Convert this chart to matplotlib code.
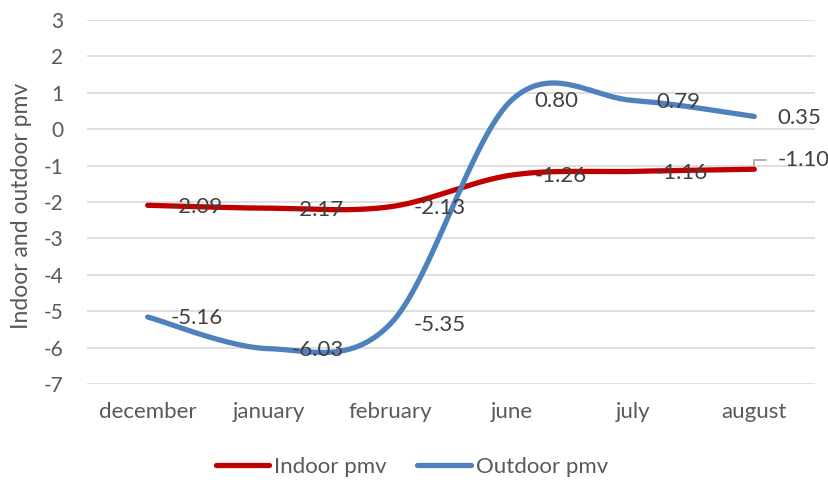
import numpy as np
import matplotlib
matplotlib.use("Agg")
import matplotlib.pyplot as plt

months = ["december", "january", "february", "june", "july", "august"]
indoor_pmv = [-2.09, -2.17, -2.13, -1.26, -1.16, -1.10]
outdoor_pmv = [-5.16, -6.03, -5.35, 0.80, 0.79, 0.35]
y_ticks = list(range(-7, 4))

plt.rcParams["font.family"] = ["Lato", "DejaVu Sans"]
plt.rcParams["axes.unicode_minus"] = False

RED = "#C00000"
BLUE = "#4F81BD"


def smooth(xs, ys, n=40):
    """Catmull-Rom style smoothing (as spreadsheet 'smoothed line')."""
    p = np.column_stack([xs, ys]).astype(float)
    p_ext = np.vstack([p[0], p, p[-1]])
    out = []
    t = np.linspace(0, 1, n)[:, None]
    for i in range(len(p) - 1):
        p0, p1, p2, p3 = p_ext[i], p_ext[i + 1], p_ext[i + 2], p_ext[i + 3]
        c1 = p1 + (p2 - p0) / 6
        c2 = p2 - (p3 - p1) / 6
        seg = ((1 - t) ** 3) * p1 + 3 * ((1 - t) ** 2) * t * c1 \
            + 3 * (1 - t) * t ** 2 * c2 + t ** 3 * p2
        out.append(seg if i == 0 else seg[1:])
    s = np.vstack(out)
    return s[:, 0], s[:, 1]


fig = plt.figure(figsize=(8.29, 4.82), dpi=100)
ax = fig.add_axes([87 / 829, 1 - 384 / 482, (815 - 87) / 829, (384 - 20) / 482])

x = np.arange(len(months))
for vals, color, name in [(indoor_pmv, RED, "Indoor pmv"),
                          (outdoor_pmv, BLUE, "Outdoor pmv")]:
    sx, sy = smooth(x, vals)
    ax.plot(sx, sy, color=color, lw=3.8, solid_capstyle="round", label=name)

# data labels to the right of each point
for series in (indoor_pmv, outdoor_pmv):
    for xi, v in zip(x, series):
        if series is indoor_pmv and xi == len(x) - 1:
            ax.annotate(f"{v:.2f}", (xi, v), xytext=(16.5, 6.5),
                        textcoords="offset points", ha="left", va="center",
                        fontsize=16, color="#404040",
                        arrowprops=dict(arrowstyle="-", color="#A6A6A6", lw=1.2,
                                        shrinkA=6, shrinkB=2,
                                        connectionstyle="angle,angleA=0,angleB=90,rad=0"))
        else:
            ax.annotate(f"{v:.2f}", (xi, v), xytext=(16.5, -1),
                        textcoords="offset points", ha="left", va="center",
                        fontsize=16, color="#404040")

ax.set_xlim(-0.5, len(months) - 0.5)
ax.set_ylim(-7, 3)
ax.set_yticks(y_ticks)
ax.set_xticks(x)
ax.set_xticklabels(months)
ax.grid(axis="y", color="#D9D9D9", lw=1.2)
ax.set_axisbelow(True)
for sp in ax.spines.values():
    sp.set_visible(False)
ax.tick_params(axis="both", length=0, labelcolor="#595959")
ax.tick_params(axis="y", pad=17, labelsize=15)
ax.tick_params(axis="x", pad=13, labelsize=16)

fig.text(22 / 829, 1 - 206 / 482, "Indoor and outdoor pmv", rotation=90,
         ha="center", va="center", fontsize=16.5, color="#595959")

fig.legend(loc="center", bbox_to_anchor=(412 / 829, 1 - 467 / 482), ncol=2,
           frameon=False, fontsize=16, labelcolor="#595959",
           handlelength=2.4, handletextpad=0.23, columnspacing=1.36)

fig.savefig("out.png", dpi=100)
